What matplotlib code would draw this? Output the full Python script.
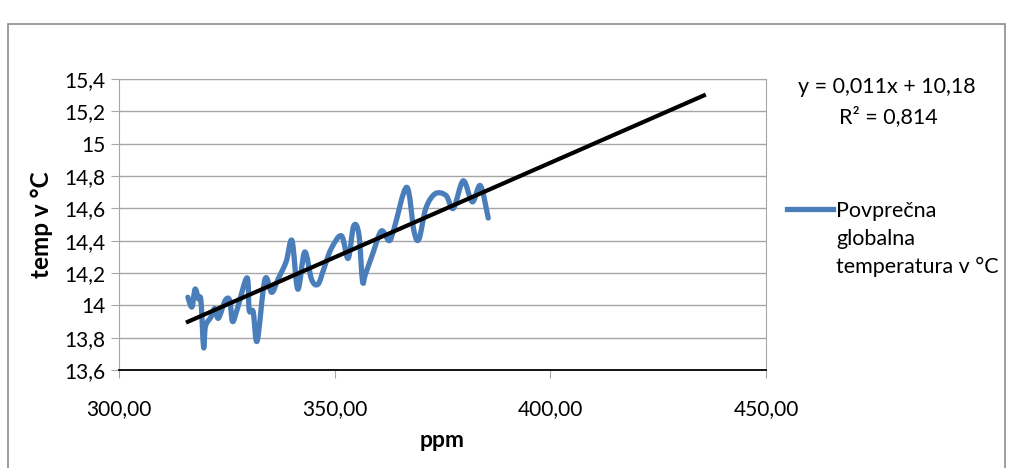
import numpy as np
import matplotlib
matplotlib.use("Agg")
import matplotlib.pyplot as plt
from matplotlib.path import Path
from matplotlib.patches import PathPatch, Rectangle
from matplotlib.lines import Line2D
from matplotlib.ticker import FuncFormatter, MultipleLocator

# CO2 (ppm) and average global temperature (°C)
ppm = [315.97, 316.91, 317.64, 318.45, 318.99, 319.62, 320.04, 321.37, 322.18, 323.05,
       324.62, 325.68, 326.32, 327.45, 329.68, 330.18, 331.11, 332.04, 333.83, 335.40,
       336.84, 338.75, 340.11, 341.45, 343.05, 344.65, 346.12, 347.42, 349.19, 351.57,
       353.12, 354.39, 355.61, 356.45, 357.10, 358.83, 360.82, 362.61, 363.73, 366.70,
       368.38, 369.55, 371.14, 373.28, 375.80, 377.52, 379.80, 381.90, 383.79, 385.60]
temp = [14.05, 13.99, 14.10, 14.04, 14.03, 13.74, 13.87, 13.93, 13.98, 13.92,
        14.03, 14.03, 13.90, 13.98, 14.17, 13.97, 13.96, 13.78, 14.16, 14.08,
        14.16, 14.27, 14.40, 14.10, 14.33, 14.16, 14.13, 14.22, 14.35, 14.43,
        14.29, 14.49, 14.44, 14.15, 14.19, 14.32, 14.46, 14.40, 14.47, 14.73,
        14.46, 14.41, 14.60, 14.69, 14.68, 14.60, 14.77, 14.64, 14.74, 14.54]

series_name = "Povprečna\nglobalna\ntemperatura v °C"
eq_text = "y = 0,011x + 10,18"
r2_text = "R² = 0,814"
forecast_forward = 50

BLUE = "#4a7ebb"
W, H = 1009, 468

plt.rcParams['font.family'] = ['Lato', 'DejaVu Sans']


def comma(v, fmt):
    return fmt.format(v).replace('.', ',')


def smooth_path(xs, ys):
    # Excel-like smoothed line: Catmull-Rom turned into cubic Bezier segments
    pts = np.column_stack([xs, ys])
    n = len(pts)
    verts = [pts[0]]
    codes = [Path.MOVETO]
    for i in range(n - 1):
        p0 = pts[i - 1] if i > 0 else pts[i]
        p1 = pts[i]
        p2 = pts[i + 1]
        p3 = pts[i + 2] if i + 2 < n else pts[i + 1]
        verts += [p1 + (p2 - p0) / 6, p2 - (p3 - p1) / 6, p2]
        codes += [Path.CURVE4] * 3
    return Path(verts, codes)


fig = plt.figure(figsize=(W / 100, H / 100), dpi=100)
ax = fig.add_axes([119 / W, 98 / H, 647 / W, 291 / H])

# outer chart frame
fig.patches.append(Rectangle((8 / W, -0.05), 997 / W, 1.05 - 24 / H,
                             transform=fig.transFigure, fill=False,
                             edgecolor="#8c8c8c", linewidth=1.2))

ax.add_patch(PathPatch(smooth_path(ppm, temp), facecolor="none",
                       edgecolor=BLUE, linewidth=3.8, capstyle="round",
                       joinstyle="round", zorder=3))

# linear trend with forward forecast
k, n = np.polyfit(ppm, temp, 1)
tx = np.array([min(ppm), max(ppm) + forecast_forward])
ax.plot(tx, k * tx + n, color="black", linewidth=3.0, zorder=4)

ax.set_xlim(300, 450)
ax.set_ylim(13.6, 15.4)
ax.xaxis.set_major_locator(MultipleLocator(50))
ax.yaxis.set_major_locator(MultipleLocator(0.2))
ax.xaxis.set_major_formatter(FuncFormatter(lambda v, p: comma(v, "{:.2f}")))
ax.yaxis.set_major_formatter(FuncFormatter(lambda v, p: comma(round(v, 1), "{:g}")))
ax.grid(axis="y", color="#a6a6a6", linewidth=1)
ax.set_axisbelow(True)
for s in ["top", "right", "left"]:
    ax.spines[s].set_color("#a6a6a6")
ax.spines["bottom"].set_color("black")
ax.spines["bottom"].set_linewidth(1.3)
ax.tick_params(axis="both", colors="#a6a6a6", labelcolor="black", labelsize=15, length=6)
ax.tick_params(axis="x", pad=15)
ax.tick_params(axis="y", pad=4)

ax.set_xlabel("ppm", fontsize=16.5, fontweight="bold", va="top")
ax.xaxis.set_label_coords(0.5, -0.205)
ax.set_ylabel("temp v °C", fontsize=17.5, fontweight="bold")
ax.yaxis.set_label_coords(-0.102, 0.5)

# trendline label
fig.text(887 / W, 1 - 93 / H, eq_text, ha="center", va="baseline", fontsize=15.5)
fig.text(888 / W, 1 - 123 / H, r2_text, ha="center", va="baseline", fontsize=15.5)

# legend
fig.add_artist(Line2D([787 / W, 833 / W], [1 - 209 / H, 1 - 209 / H], color=BLUE,
                      linewidth=3.8, transform=fig.transFigure))
for i, line in enumerate(series_name.split("\n")):
    fig.text(836 / W, 1 - (217 + 28 * i) / H, line, ha="left", va="baseline", fontsize=15.5)

fig.savefig("out.png", dpi=100)
